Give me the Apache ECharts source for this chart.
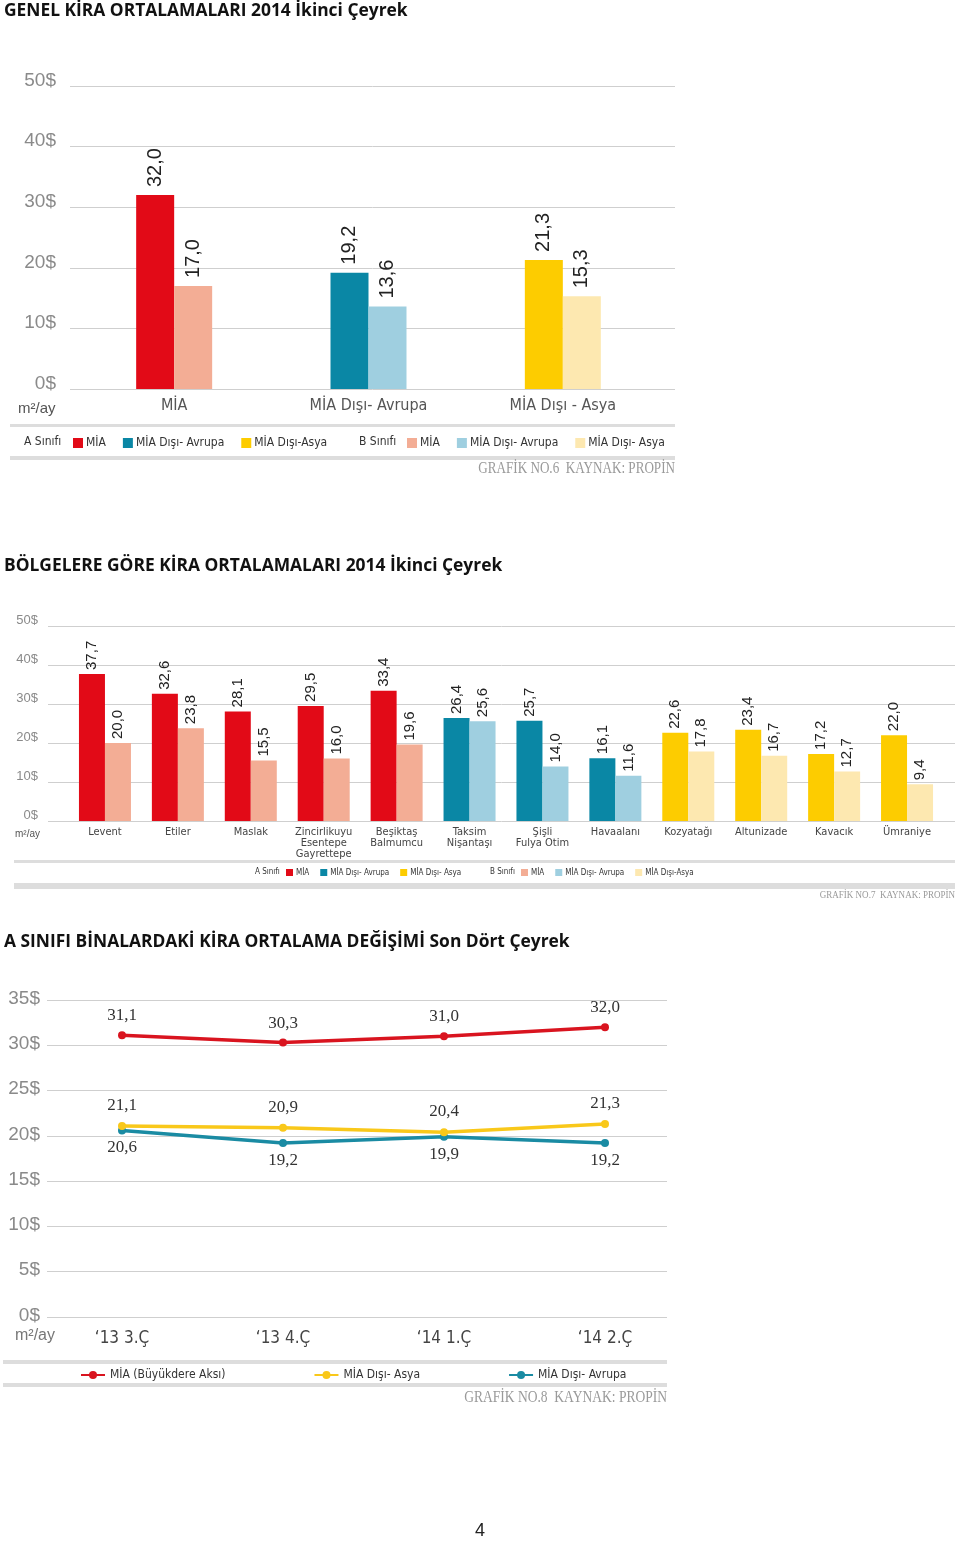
<!DOCTYPE html>
<html><head><meta charset="utf-8">
<script src="https://cdn.jsdelivr.net/npm/echarts/dist/echarts.min.js"></script>
<style>html,body{margin:0;padding:0;background:#fff}#c{width:960px;height:1541px}</style>
</head><body><div id="c"></div>
<script>
// ---------- DATA ----------
const c1Categories = ['MİA', 'MİA Dışı- Avrupa', 'MİA Dışı - Asya'];
const c1Region = ['MIA', 'AVR', 'ASY'];
const c1ClassA = [32.0, 19.2, 21.3];
const c1ClassB = [17.0, 13.6, 15.3];

const c2Categories = ['Levent', 'Etiler', 'Maslak', 'Zincirlikuyu\nEsentepe\nGayrettepe', 'Beşiktaş\nBalmumcu',
  'Taksim\nNişantaşı', 'Şişli\nFulya Otim', 'Havaalanı', 'Kozyatağı', 'Altunizade', 'Kavacık', 'Ümraniye'];
const c2Region = ['MIA', 'MIA', 'MIA', 'MIA', 'MIA', 'AVR', 'AVR', 'AVR', 'ASY', 'ASY', 'ASY', 'ASY'];
const c2ClassA = [37.7, 32.6, 28.1, 29.5, 33.4, 26.4, 25.7, 16.1, 22.6, 23.4, 17.2, 22.0];
const c2ClassB = [20.0, 23.8, 15.5, 16.0, 19.6, 25.6, 14.0, 11.6, 17.8, 16.7, 12.7, 9.4];

const c3Quarters = ['‘13 3.Ç', '‘13 4.Ç', '‘14 1.Ç', '‘14 2.Ç'];
const c3MIA = [31.1, 30.3, 31.0, 32.0];
const c3Asya = [21.1, 20.9, 20.4, 21.3];
const c3Avrupa = [20.6, 19.2, 19.9, 19.2];

const c1Legend = { A: ['MİA', 'MİA Dışı- Avrupa', 'MİA Dışı-Asya'], B: ['MİA', 'MİA Dışı- Avrupa', 'MİA Dışı- Asya'] };
const c2Legend = { A: ['MİA', 'MİA Dışı- Avrupa', 'MİA Dışı- Asya'], B: ['MİA', 'MİA Dışı- Avrupa', 'MİA Dışı-Asya'] };
const c3Names = ['MİA (Büyükdere Aksı)', 'MİA Dışı- Asya', 'MİA Dışı- Avrupa'];

// ---------- STYLE ----------
const GROUPS = ['MIA', 'AVR', 'ASY'];
const COLORS = {
  A: { MIA: '#e20a17', AVR: '#0a87a5', ASY: '#fdcc00' },
  B: { MIA: '#f3ad95', AVR: '#9fcfe0', ASY: '#fde8b0' }
};
const LINE_COLORS = ['#d9141f', '#f9c81a', '#1a8ba3'];
const NARROW = "'Liberation Sans Narrow','DejaVu Sans Condensed','Roboto Condensed','Liberation Sans',Arial,sans-serif";
const SANS = "'Liberation Sans',Arial,sans-serif";
const SERIF = "'Liberation Serif','DejaVu Serif',serif";
const fmt = v => Number(v).toFixed(1).replace('.', ',');

const chart = echarts.init(document.getElementById('c'), null, { renderer: 'canvas' });

const legendMap = {};
function barSeries(prefix, cls, values, regions, xi, yi, barWidth, labelSize, dist, legendTexts) {
  return GROUPS.map((g, k) => {
    const name = prefix + cls + g;
    legendMap[name] = legendTexts[cls][k];
    return {
      type: 'bar', name, xAxisIndex: xi, yAxisIndex: yi, stack: prefix + cls,
      barWidth, barGap: '0%',
      data: values.map((v, i) => regions[i] === g ? v : '-'),
      itemStyle: { color: COLORS[cls][g] },
      label: {
        show: true, position: 'top', rotate: 90, align: 'left', verticalAlign: 'middle',
        distance: dist, fontSize: labelSize, color: '#222', fontFamily: SANS,
        formatter: p => fmt(p.value)
      },
      emphasis: { disabled: true }, silent: true
    };
  });
}

const valAxisStyled = (gi, max, interval, fontSize, margin, lh) => ({
  type: 'value', gridIndex: gi, min: 0, max, interval,
  axisLine: { show: false }, axisTick: { show: false },
  splitLine: { show: true, lineStyle: { color: '#cfcfcf', width: 1 } },
  axisLabel: { formatter: '{value}$', fontSize, color: '#8a8a8a', margin, fontFamily: SANS,
    verticalAlign: 'bottom', lineHeight: lh }
});
const valAxisHidden = (gi, max) => ({ type: 'value', gridIndex: gi, min: 0, max, show: false, splitLine: { show: false } });
const hiddenX = gi => ({ type: 'value', gridIndex: gi, show: false, min: 0, max: 1 });
const catAxis = (gi, data, fontSize, margin, lineHeight, color) => ({
  type: 'category', gridIndex: gi, data,
  axisLine: { show: false }, axisTick: { show: false },
  axisLabel: { fontSize, margin, lineHeight, color, fontFamily: NARROW, interval: 0 }
});

const series = [
  ...barSeries('c1', 'A', c1ClassA, c1Region, 1, 1, 38, 20, 8, c1Legend),
  ...barSeries('c1', 'B', c1ClassB, c1Region, 1, 1, 38, 20, 8, c1Legend),
  ...barSeries('c2', 'A', c2ClassA, c2Region, 3, 3, 26, 15, 4, c2Legend),
  ...barSeries('c2', 'B', c2ClassB, c2Region, 3, 3, 26, 15, 4, c2Legend),
];
const lineData = [c3MIA, c3Asya, c3Avrupa];
const labelPos = ['top', 'top', 'bottom'];
const labelDist = [7, 8, 5];
lineData.forEach((d, k) => {
  series.push({
    type: 'line', name: c3Names[k], xAxisIndex: 5, yAxisIndex: 5, data: d,
    symbol: 'circle', symbolSize: 8, z: 5 - k,
    lineStyle: { width: 3.5, color: LINE_COLORS[k] }, itemStyle: { color: LINE_COLORS[k] },
    label: { show: true, position: labelPos[k], distance: labelDist[k], fontSize: 17, color: '#333',
      fontFamily: SERIF, formatter: p => fmt(p.value) },
    emphasis: { disabled: true }, silent: true
  });
});

const legendBar = (prefix, cls, left, top, size, gap, fontSize) => ({
  left, top, padding: 0, orient: 'horizontal', itemWidth: size, itemHeight: size, itemGap: gap, icon: 'rect',
  selectedMode: false, data: GROUPS.map(g => prefix + cls + g),
  formatter: n => legendMap[n],
  textStyle: { fontSize, color: '#333', fontFamily: NARROW, padding: [0, 0, 0, -2] }
});

const txt = (text, x, y, font, fill, align, scaleX) => ({
  type: 'text', x, y, scaleX: scaleX || 1, silent: true,
  style: { text, font, fill, align: align || 'left', verticalAlign: 'middle' }
});
const bar = (x, y, w, h) => ({ type: 'rect', shape: { x, y, width: w, height: h }, style: { fill: '#dddddd' }, silent: true });

const TITLE_FONT = "bold 17.4px 'Open Sans','Lato',sans-serif";

chart.setOption({
  animation: false,
  backgroundColor: '#fff',
  grid: [
    { left: 70, width: 605, top: 86, height: 303 },   // 0 chart1 frame
    { left: 77, width: 583, top: 86, height: 303 },   // 1 chart1 bars
    { left: 48, width: 907, top: 626, height: 195 },  // 2 chart2 frame
    { left: 68.5, width: 875, top: 626, height: 195 },// 3 chart2 bars
    { left: 47, width: 620, top: 1000, height: 317 }, // 4 chart3 frame
    { left: 41.5, width: 644, top: 1000, height: 317 } // 5 chart3 lines
  ],
  xAxis: [
    hiddenX(0),
    catAxis(1, c1Categories, 16, 9, 16, '#555'),
    hiddenX(2),
    catAxis(3, c2Categories, 11, 6, 11, '#444'),
    hiddenX(4),
    Object.assign(catAxis(5, c3Quarters, 17, 13, 17, '#444'), { boundaryGap: true })
  ],
  yAxis: [
    valAxisStyled(0, 50, 10, 19, 14, 11),
    valAxisHidden(1, 50),
    valAxisStyled(2, 50, 10, 13, 10, 12),
    valAxisHidden(3, 50),
    valAxisStyled(4, 35, 5, 19, 7, 3),
    valAxisHidden(5, 35)
  ],
  legend: [
    legendBar('c1', 'A', 73, 437, 10, 17, 12),
    legendBar('c1', 'B', 407, 437, 10, 17, 12),
    legendBar('c2', 'A', 286, 868.5, 7, 11, 8),
    legendBar('c2', 'B', 521, 868.5, 7, 11, 8),
    {
      left: 80, top: 1369, padding: 0, itemWidth: 24, itemHeight: 10, itemGap: 88, selectedMode: false,
      data: c3Names, textStyle: { fontSize: 12, color: '#333', fontFamily: NARROW }
    }
  ],
  graphic: [
    txt('GENEL KİRA ORTALAMALARI 2014 İkinci Çeyrek', 4, 11, TITLE_FONT, '#111'),
    txt('m²/ay', 18, 409, '15px ' + SANS, '#555'),
    bar(10, 424, 665, 3),
    bar(10, 456, 665, 4),
    txt('A Sınıfı', 24, 442, '12px ' + NARROW, '#333'),
    txt('B Sınıfı', 359, 442, '12px ' + NARROW, '#333'),
    txt('GRAFİK NO.6  KAYNAK: PROPİN', 675, 469, '16px ' + SERIF, '#9a9a9a', 'right', 0.82),

    txt('BÖLGELERE GÖRE KİRA ORTALAMALARI 2014 İkinci Çeyrek', 4, 566, TITLE_FONT, '#111'),
    txt('m²/ay', 15, 834, '10px ' + SANS, '#555'),
    bar(14, 860, 941, 3),
    bar(14, 883, 941, 6),
    txt('A Sınıfı', 255, 872, '8px ' + NARROW, '#333'),
    txt('B Sınıfı', 490, 872, '8px ' + NARROW, '#333'),
    txt('GRAFİK NO.7  KAYNAK: PROPİN', 955, 895, '11px ' + SERIF, '#9a9a9a', 'right', 0.82),

    txt('A SINIFI BİNALARDAKİ KİRA ORTALAMA DEĞİŞİMİ Son Dört Çeyrek', 4, 942, TITLE_FONT, '#111'),
    txt('m²/ay', 15, 1336, '16px ' + SANS, '#777'),
    bar(3, 1360, 664, 4),
    bar(3, 1383, 664, 4),
    txt('GRAFİK NO.8  KAYNAK: PROPİN', 667, 1398, '16.5px ' + SERIF, '#9a9a9a', 'right', 0.82),

    txt('4', 480, 1531, '18px ' + SANS, '#222', 'center')
  ],
  series
});
</script>
</body></html>
